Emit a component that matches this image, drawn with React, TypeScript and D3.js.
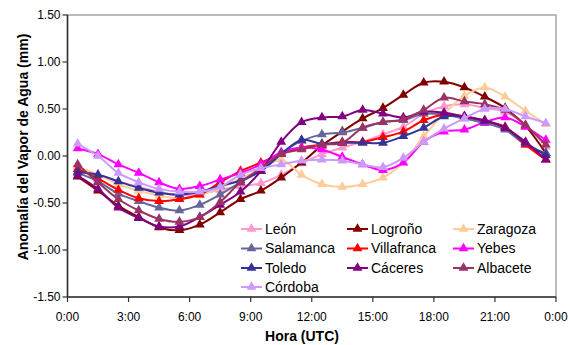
import React from "react";
import * as d3 from "d3";

// Hourly mean anomalies of precipitable water vapour (mm), one value per hour (xx:30 UTC)
const hours = [0.5, 1.5, 2.5, 3.5, 4.5, 5.5, 6.5, 7.5, 8.5, 9.5, 10.5, 11.5, 12.5, 13.5, 14.5, 15.5, 16.5, 17.5, 18.5, 19.5, 20.5, 21.5, 22.5, 23.5];

const leon = [-0.12, -0.20, -0.27, -0.33, -0.38, -0.42, -0.40, -0.36, -0.32, -0.29, -0.20, -0.08, 0.02, 0.09, 0.15, 0.23, 0.31, 0.45, 0.53, 0.55, 0.51, 0.47, 0.33, 0.10];
const logrono = [-0.22, -0.37, -0.53, -0.65, -0.76, -0.79, -0.73, -0.60, -0.46, -0.37, -0.23, -0.07, 0.11, 0.26, 0.40, 0.51, 0.65, 0.78, 0.79, 0.73, 0.63, 0.51, 0.32, 0.03];
const zaragoza = [-0.12, -0.20, -0.30, -0.37, -0.42, -0.45, -0.42, -0.34, -0.24, -0.14, -0.04, -0.20, -0.30, -0.33, -0.30, -0.23, -0.07, 0.21, 0.45, 0.64, 0.73, 0.63, 0.48, 0.34];
const salamanca = [-0.18, -0.27, -0.40, -0.48, -0.55, -0.58, -0.52, -0.41, -0.28, -0.15, 0.03, 0.16, 0.23, 0.25, 0.30, 0.36, 0.38, 0.45, 0.44, 0.40, 0.35, 0.28, 0.12, 0.03];
const villafranca = [-0.14, -0.24, -0.36, -0.45, -0.48, -0.46, -0.41, -0.28, -0.16, -0.07, 0.02, 0.09, 0.12, 0.15, 0.15, 0.20, 0.26, 0.38, 0.44, 0.42, 0.37, 0.31, 0.12, -0.04];
const yebes = [0.08, 0.02, -0.09, -0.18, -0.28, -0.35, -0.32, -0.25, -0.18, -0.09, 0.04, 0.09, 0.07, -0.01, -0.09, -0.15, -0.07, 0.15, 0.26, 0.28, 0.36, 0.41, 0.31, 0.17];
const toledo = [-0.17, -0.20, -0.27, -0.34, -0.39, -0.41, -0.38, -0.32, -0.26, -0.16, 0.02, 0.17, 0.13, 0.14, 0.14, 0.14, 0.21, 0.30, 0.42, 0.42, 0.37, 0.30, 0.14, 0.01];
const caceres = [-0.21, -0.35, -0.55, -0.66, -0.75, -0.75, -0.65, -0.52, -0.38, -0.16, 0.15, 0.36, 0.41, 0.42, 0.49, 0.45, 0.41, 0.47, 0.46, 0.42, 0.38, 0.30, 0.15, -0.04];
const albacete = [-0.09, -0.28, -0.46, -0.58, -0.67, -0.70, -0.65, -0.49, -0.28, -0.13, 0.02, 0.07, 0.12, 0.14, 0.30, 0.36, 0.39, 0.49, 0.62, 0.58, 0.55, 0.49, 0.33, 0.12];
const cordoba = [0.13, 0.00, -0.18, -0.28, -0.35, -0.38, -0.38, -0.33, -0.20, -0.13, -0.09, -0.05, -0.04, -0.05, -0.09, -0.12, -0.02, 0.15, 0.29, 0.40, 0.50, 0.50, 0.42, 0.35];

const seriesNames = ["León", "Logroño", "Zaragoza", "Salamanca", "Villafranca", "Yebes", "Toledo", "Cáceres", "Albacete", "Córdoba"];
const seriesValues = [leon, logrono, zaragoza, salamanca, villafranca, yebes, toledo, caceres, albacete, cordoba];
const seriesColors = ["#FF99CC", "#800000", "#FFCC99", "#666699", "#FF0000", "#FF00FF", "#333399", "#800080", "#993366", "#CC99FF"];

const xTickHours = [0, 3, 6, 9, 12, 15, 18, 21, 24];
const xTickLabels = ["0:00", "3:00", "6:00", "9:00", "12:00", "15:00", "18:00", "21:00", "0:00"];
const yTicks = [-1.5, -1.0, -0.5, 0, 0.5, 1.0, 1.5];

const W = 570;
const H = 345;
const left = 67.5;
const right = 556;
const top = 15;
const bottom = 297;
const font = "Arial, 'Liberation Sans', sans-serif";

export default function App() {
  const x = d3.scaleLinear().domain([0, 24]).range([left, right]);
  const y = d3.scaleLinear().domain([-1.5, 1.5]).range([bottom, top]);
  const tri = d3.symbol().type(d3.symbolTriangle).size(42)();
  const line = d3
    .line<number>()
    .x((_, i) => x(hours[i]))
    .y((v) => y(v))
    .curve(d3.curveCatmullRom.alpha(0.5));

  const legendCols = [241, 347, 453];
  const legendRows = [229, 248.5, 268, 287];

  return (
    <svg
      width={W}
      height={H}
      style={{ position: "absolute", left: 0, top: 0, background: "#fff" }}
      fontFamily={font}
    >
      {/* plot frame */}
      <rect x={left} y={top} width={right - left} height={bottom - top} fill="#fff" stroke="#a6a6a6" strokeWidth={1.5} />
      <line x1={left} x2={left} y1={top} y2={bottom} stroke="#333" strokeWidth={1.5} />
      <line x1={left} x2={right} y1={bottom} y2={bottom} stroke="#333" strokeWidth={1.5} />

      {/* y axis */}
      {yTicks.map((t) => (
        <g key={t}>
          <line x1={left - 5} x2={left} y1={y(t)} y2={y(t)} stroke="#333" strokeWidth={1.2} />
          <text x={left - 7} y={y(t)} dy="0.35em" textAnchor="end" fontSize={12} fill="#000">
            {t.toFixed(2)}
          </text>
        </g>
      ))}

      {/* x axis */}
      {xTickHours.map((h, i) => (
        <g key={i}>
          <line x1={x(h)} x2={x(h)} y1={bottom} y2={bottom + 5} stroke="#333" strokeWidth={1.2} />
          <text x={x(h)} y={321} textAnchor="middle" fontSize={12} fill="#000">
            {xTickLabels[i]}
          </text>
        </g>
      ))}

      {/* series */}
      {seriesValues.map((vals, s) => (
        <g key={seriesNames[s]}>
          <path d={line(vals) ?? ""} fill="none" stroke={seriesColors[s]} strokeWidth={2} />
          {vals.map((v, i) => (
            <path key={i} d={tri} transform={`translate(${x(hours[i])},${y(v)})`} fill={seriesColors[s]} />
          ))}
        </g>
      ))}

      {/* legend */}
      {seriesNames.map((name, s) => {
        const cx = legendCols[s % 3];
        const cy = legendRows[Math.floor(s / 3)];
        return (
          <g key={name}>
            <line x1={cx} x2={cx + 21} y1={cy} y2={cy} stroke={seriesColors[s]} strokeWidth={2} />
            <path d={tri} transform={`translate(${cx + 10.5},${cy})`} fill={seriesColors[s]} />
            <text x={cx + 24} y={cy} dy="0.35em" fontSize={14} fill="#000">
              {name}
            </text>
          </g>
        );
      })}

      {/* axis titles */}
      <text x={302} y={341} textAnchor="middle" fontSize={14} fontWeight="bold" fill="#000">
        Hora (UTC)
      </text>
      <text
        transform={`translate(28,147) rotate(-90)`}
        textAnchor="middle"
        fontSize={14}
        fontWeight="bold"
        fill="#000"
      >
        Anomalía del Vapor de Agua (mm)
      </text>
    </svg>
  );
}
